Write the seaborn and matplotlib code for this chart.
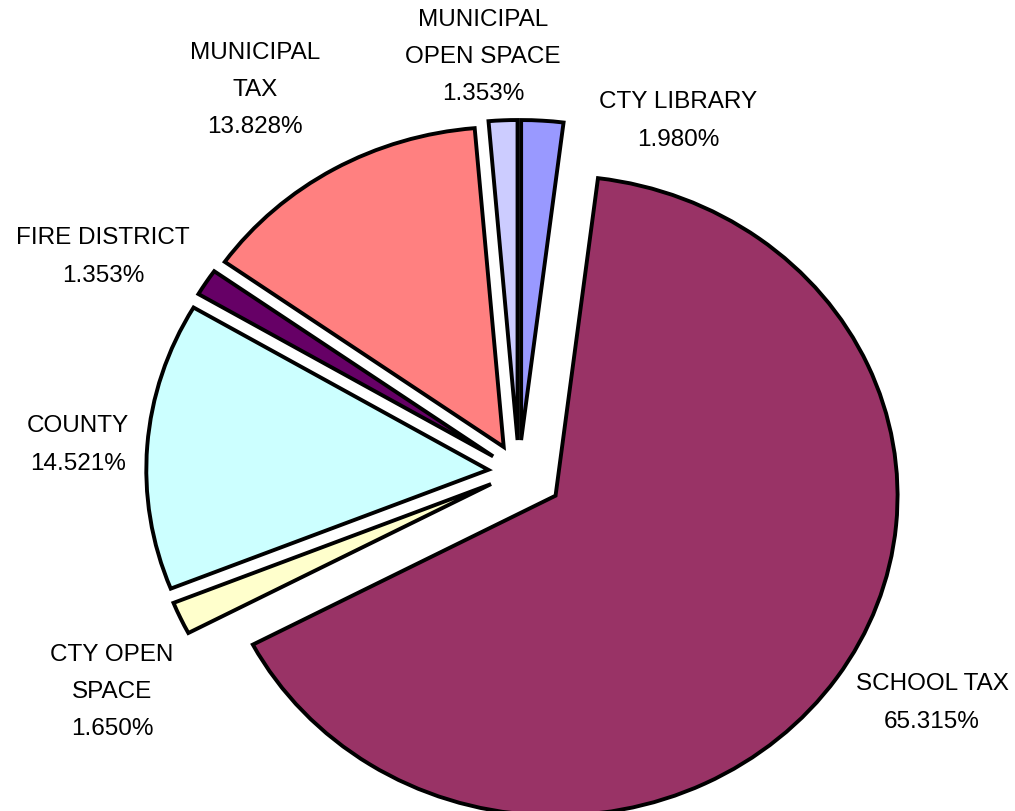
import matplotlib
matplotlib.use("Agg")
import matplotlib.pyplot as plt
import seaborn as sns

sns.set_theme(style="white")
plt.rcParams["font.family"] = ["Liberation Sans", "DejaVu Sans"]

# slices, clockwise from 12 o'clock
categories = ["CTY LIBRARY", "SCHOOL TAX", "CTY OPEN\nSPACE", "COUNTY",
              "FIRE DISTRICT", "MUNICIPAL\nTAX", "MUNICIPAL\nOPEN SPACE"]
shares = [1.980, 65.315, 1.650, 14.521, 1.353, 13.828, 1.353]
slice_colors = ["#9999FF", "#993366", "#FFFFCC", "#CCFFFF",
                "#660066", "#FF8080", "#CCCCFF"]

# layout: explode per slice, label centres in pixels
explode = [0.1, 0.13, 0.09, 0.09, 0.09, 0.09, 0.1]
label_px = [(678, 121), (932, 703), (112, 692), (78, 445),
            (103, 257), (255, 90), (483, 57)]

W, H = 1015, 811
cx, cy, rx, ry = 519, 472, 342, 320

fig = plt.figure(figsize=(W / 100, H / 100), dpi=100)
ax = fig.add_axes([0, 0, 1, 1])

ax.pie(shares, colors=slice_colors, startangle=90, counterclock=False,
       explode=explode,
       wedgeprops=dict(edgecolor="black", linewidth=2.8, joinstyle="miter"))
ax.set_aspect("auto")
ax.set_xlim(-cx / rx, (W - cx) / rx)
ax.set_ylim(-(H - cy) / ry, cy / ry)
ax.axis("off")

for name, val, (px, py) in zip(categories, shares, label_px):
    fig.text(px / W, 1 - py / H, f"{name}\n{val:.3f}%", ha="center",
             va="center", fontsize=17.5, linespacing=1.9, color="black")

fig.savefig("out.png", dpi=100, facecolor="white")
